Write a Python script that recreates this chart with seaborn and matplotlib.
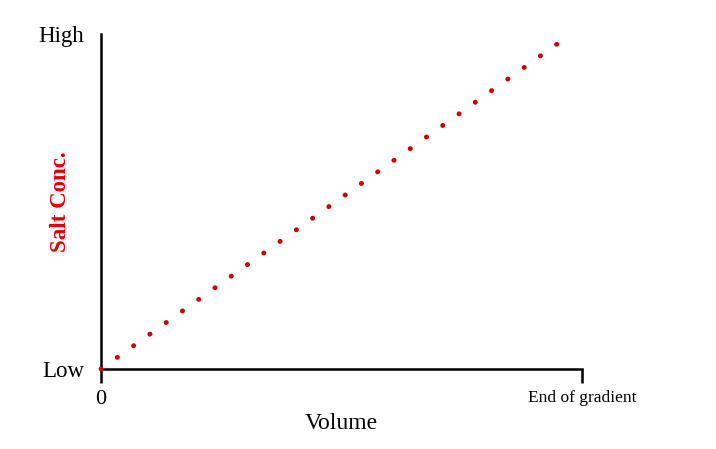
import matplotlib
matplotlib.use("Agg")
import matplotlib.pyplot as plt
import seaborn as sns
import pandas as pd

# gradient data (volume fraction vs salt concentration fraction)
volume = [0.0, 0.948]
salt_conc = [0.0, 0.970]

x_ticks = [0, 1]
x_tick_labels = ["0", "End of gradient"]
y_ticks = [0, 1]
y_tick_labels = ["Low", "High"]

sns.set_theme(style="white")
plt.rcParams["font.family"] = ["Liberation Serif", "DejaVu Serif"]

df = pd.DataFrame({"Volume": volume, "Salt": salt_conc})

fig = plt.figure(figsize=(7.16, 4.49), dpi=100)
ax = fig.add_axes([101 / 716, 80 / 449, 481 / 716, 335 / 449])

sns.lineplot(data=df, x="Volume", y="Salt", ax=ax, color="#cc0000",
             linewidth=3.5, linestyle=(0, (0.05, 4.06)))
for line in ax.lines:
    line.set_dash_capstyle("round")
    line.set_clip_on(False)
    line.set_zorder(5)

ax.set_xlim(0, 1)
ax.set_ylim(0, 1)
sns.despine(ax=ax)
for side in ["left", "bottom"]:
    ax.spines[side].set_linewidth(1.8)
    ax.spines[side].set_color("black")
    ax.spines[side].set_zorder(2)

ax.set_xticks(x_ticks)
ax.set_xticklabels(x_tick_labels)
ax.set_yticks(y_ticks)
ax.set_yticklabels(y_tick_labels)
ax.tick_params(axis="x", length=10, width=1.8, color="black", direction="out",
               pad=5, labelsize=16, labelcolor="black", bottom=True)
ax.xaxis.get_ticklabels()[1].set_fontsize(12.5)
ax.tick_params(axis="y", length=0, pad=12, labelsize=16.5, labelcolor="black")

ax.set_xlabel("Volume", fontsize=17, color="black")
ax.xaxis.set_label_coords(0.5, -0.13)
ax.set_ylabel("Salt Conc.", fontsize=16.5, color="#e00000", fontweight="bold")
ax.yaxis.set_label_coords(-0.062, 0.5)

fig.savefig("out.png", dpi=100)
